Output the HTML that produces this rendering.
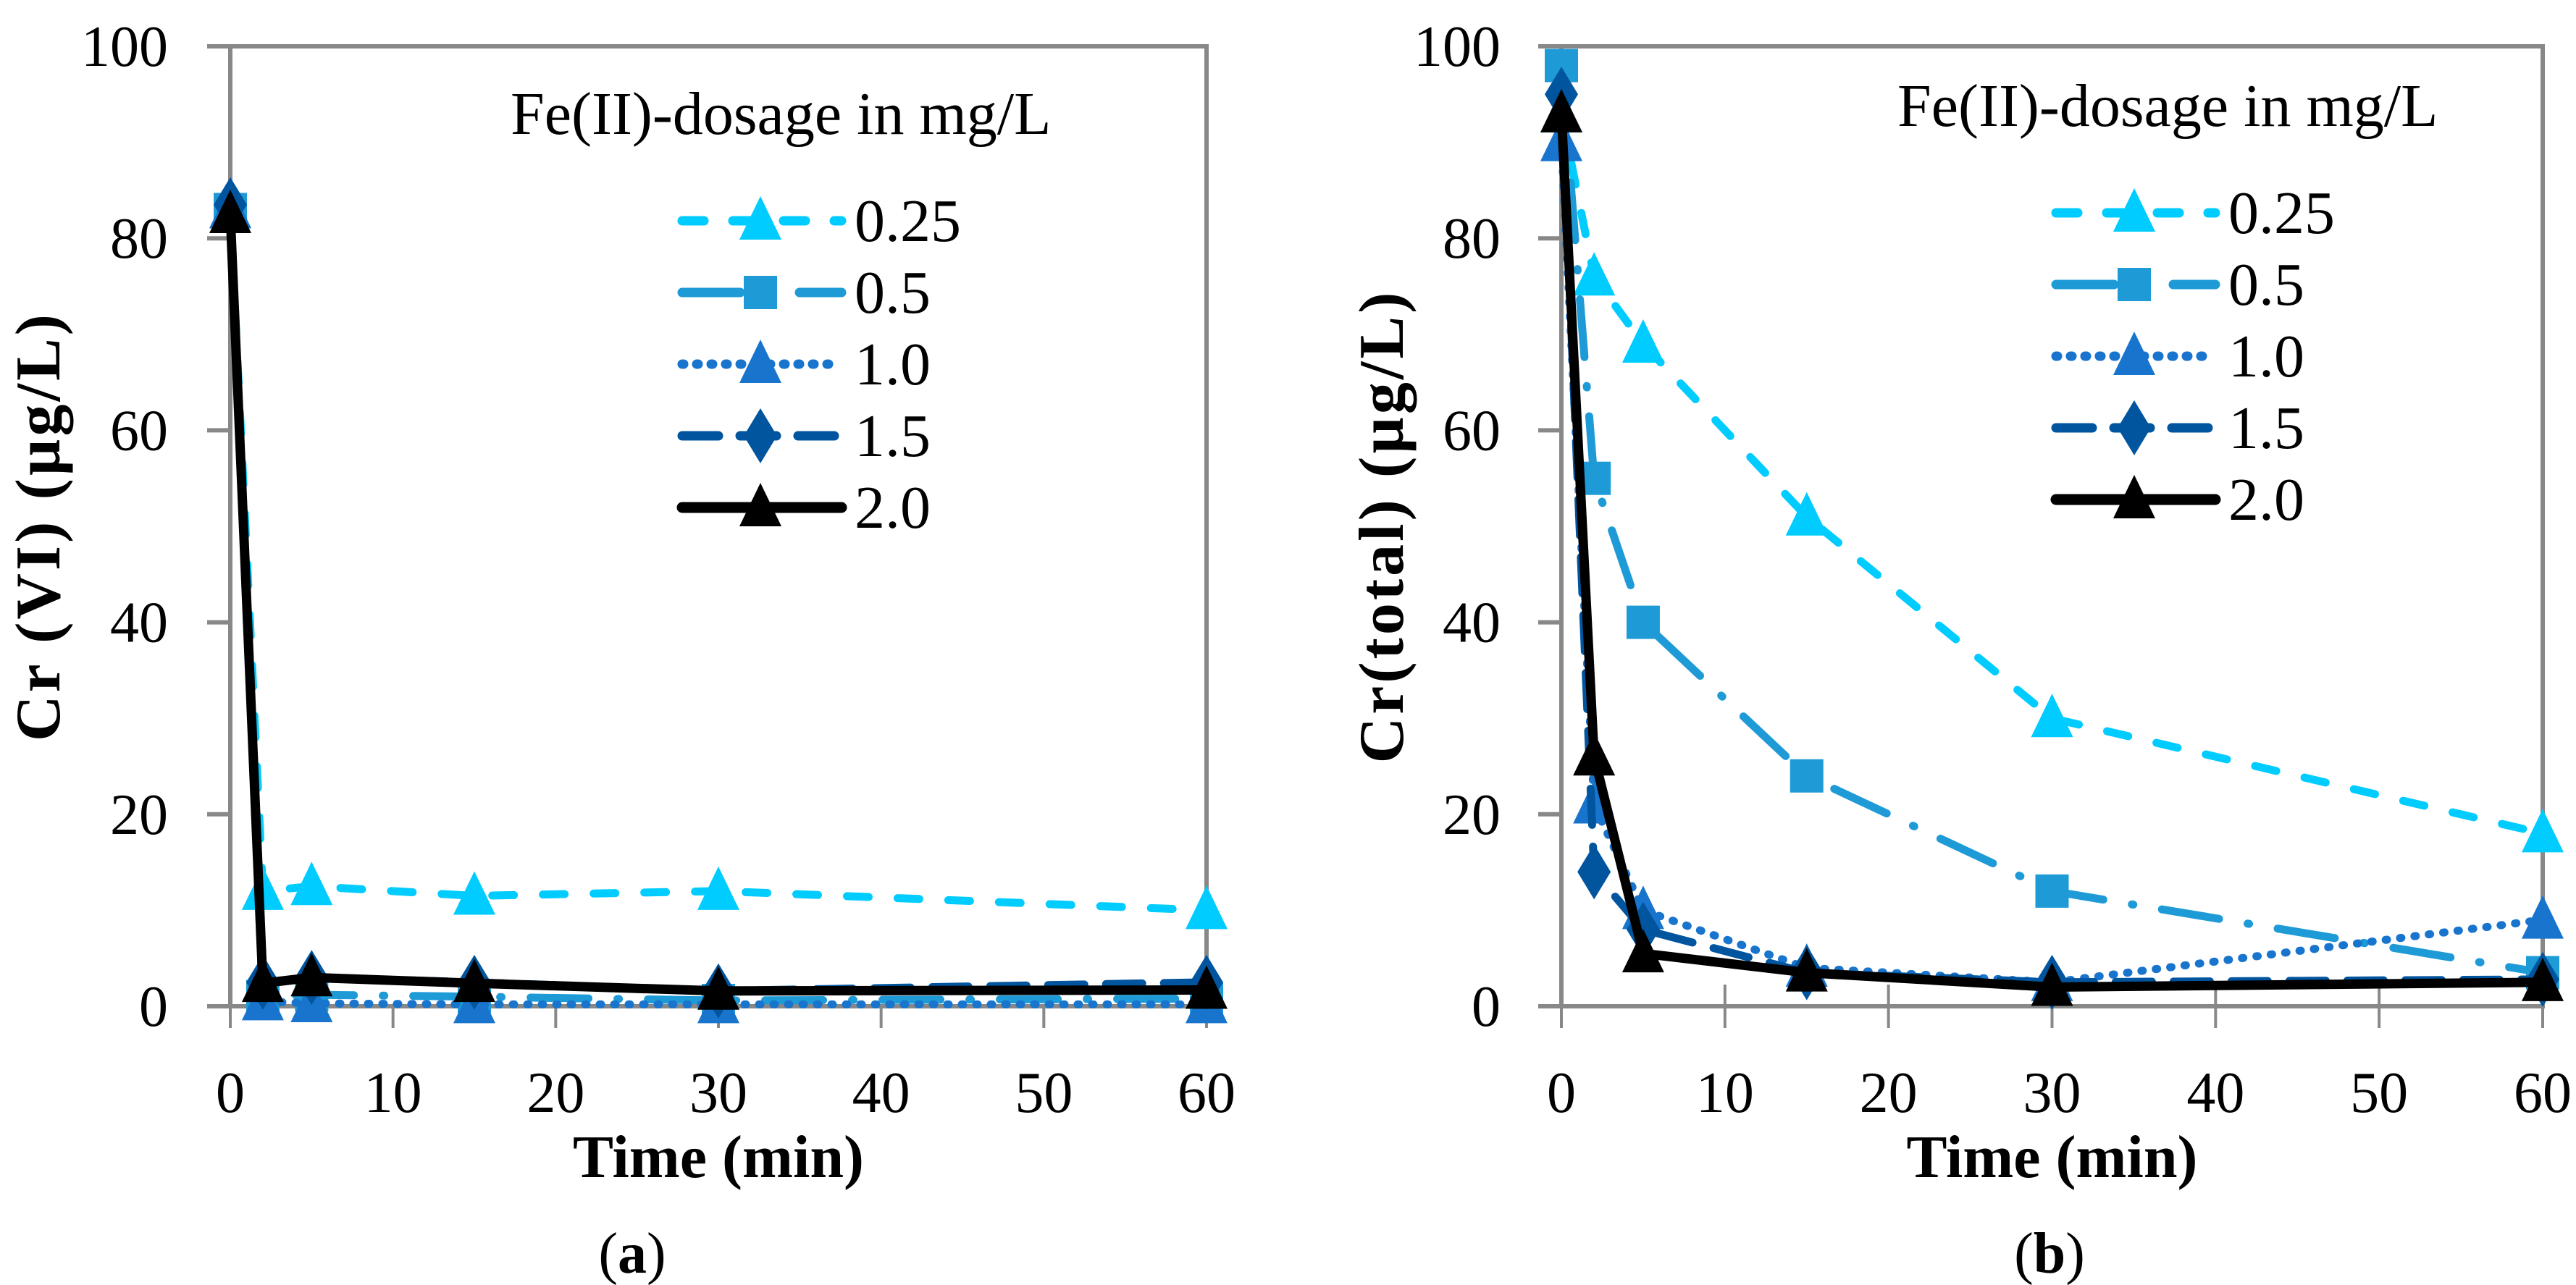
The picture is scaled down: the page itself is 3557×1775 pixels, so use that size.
<!DOCTYPE html>
<html><head><meta charset="utf-8"><style>
html,body{margin:0;padding:0;background:#fff}
svg{display:block}
text{font-family:"Liberation Serif",serif;fill:#000}
</style></head><body>
<svg id="fig" width="3557" height="1775" viewBox="0 0 3557 1775" xmlns="http://www.w3.org/2000/svg"></svg>
<script>
const times = [0, 2, 5, 15, 30, 60];
const seriesNames = ["0.25", "0.5", "1.0", "1.5", "2.0"];
const crVI_025 = [83, 12, 12.5, 11.5, 12, 10];
const crVI_05 = [83, 1, 1.2, 1, 0.6, 0.8];
const crVI_10 = [83, 0.5, 0.3, 0.2, 0.2, 0.2];
const crVI_15 = [83.5, 2.5, 3, 2.5, 1.6, 2.5];
const crVI_20 = [82.5, 2.4, 3, 2.4, 1.6, 1.7];
const crT_025 = [93, 76, 69, 51, 30, 18];
const crT_05 = [98, 55, 40, 24, 12, 3.5];
const crT_10 = [90, 21, 10, 4, 2.5, 9];
const crT_15 = [95, 14, 8, 3.5, 2.5, 2.8];
const crT_20 = [93, 26, 5.5, 3.5, 2, 2.5];
const xTicks = [0, 10, 20, 30, 40, 50, 60];
const yTicks = [0, 20, 40, 60, 80, 100];

const NS = "http://www.w3.org/2000/svg";
const svg = document.getElementById("fig");
function el(tag, attrs, parent) {
  const e = document.createElementNS(NS, tag);
  for (const k in attrs) e.setAttribute(k, attrs[k]);
  (parent || svg).appendChild(e);
  return e;
}
const styles = [
  {color:"#00CCFF", dash:"30 40", marker:"tri", w:11},
  {color:"#1E9BD7", dash:"80 40 2 40", marker:"sq", w:11},
  {color:"#1874CD", dash:"2 18", marker:"tri", w:11},
  {color:"#00559E", dash:"50 30", marker:"dia", w:11},
  {color:"#000000", dash:"", marker:"tri", w:13}
];
function marker(g, type, x, y, color) {
  let m;
  if (type === "tri") m = el("polygon", {points:`${x},${y-34} ${x-29},${y+26} ${x+29},${y+26}`, fill:color}, g);
  else if (type === "sq") m = el("rect", {x:x-23, y:y-23, width:46, height:46, fill:color}, g);
  else m = el("polygon", {points:`${x},${y-38} ${x+23},${y} ${x},${y+38} ${x-23},${y}`, fill:color}, g);
  
  
}
function chart(opt) {
  const {x0, x1, y0, y1, data, ytitle, ytitleX, ylabRight, legX, legY, legTitleX, panel, panelX, sid} = opt;
  const g = el("g", {});
  
  
  const sx = v => x0 + (v - 0) / 60 * (x1 - x0);
  const sy = v => y0 - v / 100 * (y0 - y1);
  const frame = el("rect", {x:x0, y:y1, width:x1-x0, height:y0-y1, fill:"none", stroke:"#888", "stroke-width":6}, g);
  
  
  yTicks.forEach(v => {
    const t = el("line", {x1:x0-32, x2:x0, y1:sy(v), y2:sy(v), stroke:"#888", "stroke-width":6}, g);
    
    
    const l = el("text", {x:ylabRight, y:sy(v)+27, "text-anchor":"end", "font-size":80}, g);
    l.textContent = v;
    
    
  });
  xTicks.forEach(v => {
    const t = el("line", {x1:sx(v), x2:sx(v), y1:opt.crossTicks ? y0-30 : y0, y2:y0+30, stroke:"#888", "stroke-width":4}, g);
    
    
    const l = el("text", {x:sx(v), y:1536, "text-anchor":"middle", "font-size":80}, g);
    l.textContent = v;
    
    
  });
  const xt = el("text", {x:(x0+x1)/2, y:1626, "text-anchor":"middle", "font-size":84, "font-weight":"bold"}, g);
  xt.textContent = "Time (min)";
  
  
  const yt = el("text", {x:0, y:0, "text-anchor":"middle", "font-size":88, "letter-spacing":4, "font-weight":"bold", transform:`translate(${ytitleX},${(y0+y1)/2}) rotate(-90)`}, g);
  yt.textContent = ytitle;
  
  
  const pt = el("text", {x:panelX, y:1758, "text-anchor":"middle", "font-size":80}, g);
  pt.innerHTML = '(<tspan font-weight="bold">' + panel + '</tspan>)';
  
  
  data.forEach((vals, i) => {
    const s = styles[i];
    const sg = el("g", {}, g);
    
    
    const pts = vals.map((v, j) => sx(times[j]) + "," + sy(v)).join(" ");
    const pl = el("polyline", {points:pts, fill:"none", stroke:s.color, "stroke-width":s.w, "stroke-dasharray":s.dash, "stroke-linecap":"round", "stroke-linejoin":"round"}, sg);
    
    
    vals.forEach((v, j) => marker(sg, s.marker, sx(times[j]), sy(v), s.color));
  });
  const lg = el("g", {}, g);
  
  
  const lt = el("text", {x:legTitleX, y:legY-120, "font-size":84}, lg);
  lt.textContent = "Fe(II)-dosage in mg/L";
  
  
  seriesNames.forEach((n, i) => {
    const s = styles[i];
    const yy = legY + i * 99;
    const eg = el("g", {}, lg);
    
    
    el("line", {x1:legX, x2:legX+220, y1:yy, y2:yy, stroke:s.color, "stroke-width":s.w+2, "stroke-dasharray":s.dash, "stroke-linecap":"round"}, eg);
    marker(eg, s.marker, legX+108, yy, s.color);
    const t = el("text", {x:legX+238, y:yy+28, "font-size":84}, eg);
    t.textContent = n;
  });
}
chart({sid:"chart-a", x0:318, x1:1666, y0:1390, y1:64, data:[crVI_025,crVI_05,crVI_10,crVI_15,crVI_20],
  ytitle:"Cr (VI) (µg/L)", ytitleX:82, ylabRight:232, legX:942, legY:305, legTitleX:705, panel:"a", panelX:873});
chart({sid:"chart-b", x0:2156, x1:3511, y0:1390, y1:64, data:[crT_025,crT_05,crT_10,crT_15,crT_20], crossTicks:true,
  ytitle:"Cr(total) (µg/L)", ytitleX:1937, ylabRight:2072, legX:2839, legY:294, legTitleX:2620, panel:"b", panelX:2830});
</script>
</body></html>
